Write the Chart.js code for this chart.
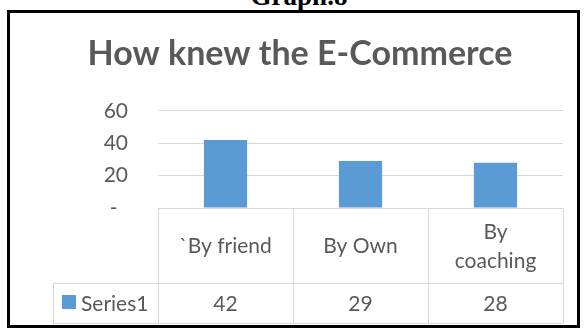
<!DOCTYPE html>
<html>
<head>
<meta charset="utf-8">
<title>How knew the E-Commerce</title>
<script src="https://cdn.jsdelivr.net/npm/chart.js@4/dist/chart.umd.min.js"></script>
<style>
  html, body { margin: 0; padding: 0; background: #fff; }
  #wrap { position: relative; width: 585px; height: 331px; overflow: hidden; }
  #caption {
    position: absolute; left: 0; top: -17px; width: 598px;
    text-align: center; font: bold 27px/27px "Liberation Serif", "Times New Roman", serif; color: #000;
  }
  #frame {
    position: absolute; left: 7px; top: 10px; width: 567px; height: 312px;
    border: 3px solid #000;
  }
  #chart { position: absolute; left: 0; top: 0; }
</style>
</head>
<body>
<div id="wrap">
  <div id="caption">Graph.8</div>
  <div id="frame"></div>
  <canvas id="chart" width="585" height="331"></canvas>
</div>
<script>
"use strict";

const categories = ["`By friend", "By Own", "By coaching"];
const seriesName = "Series1";
const series1 = [42, 29, 28];
const yTicks = [0, 20, 40, 60];

const TEXT = "#595959";
const LINE = "#d9d9d9";
const BAR = "#5b9bd5";
const FONT = "Lato";

// simple word wrap for the header cells
function wrapLabel(ctx, text, maxWidth) {
  const words = text.split(" ");
  const lines = [];
  let line = "";
  for (const w of words) {
    const next = line ? line + " " + w : w;
    if (line && ctx.measureText(next).width > maxWidth) {
      lines.push(line);
      line = w;
    } else {
      line = next;
    }
  }
  if (line) lines.push(line);
  return lines;
}

// data table under the plot, aligned to the category scale
const dataTable = {
  id: "dataTable",
  afterDraw(chart) {
    const { ctx, chartArea } = chart;
    const x = chart.scales.x;
    const step = (chartArea.right - chartArea.left) / categories.length;
    const top = chartArea.bottom;
    const rowY = top + 75;
    const bottom = rowY + 40;
    const legendLeft = 53;

    ctx.save();
    ctx.strokeStyle = LINE;
    ctx.lineWidth = 1;
    ctx.beginPath();
    ctx.moveTo(chartArea.left, top + 0.5);
    ctx.lineTo(chartArea.right, top + 0.5);
    ctx.moveTo(legendLeft, rowY + 0.5);
    ctx.lineTo(chartArea.right, rowY + 0.5);
    ctx.moveTo(legendLeft, bottom + 0.5);
    ctx.lineTo(chartArea.right, bottom + 0.5);
    ctx.moveTo(legendLeft + 0.5, rowY);
    ctx.lineTo(legendLeft + 0.5, bottom);
    for (let i = 0; i <= categories.length; i++) {
      const bx = Math.round(chartArea.left + i * step) + 0.5;
      ctx.moveTo(bx, top);
      ctx.lineTo(bx, bottom);
    }
    ctx.stroke();

    ctx.fillStyle = TEXT;
    ctx.font = `21px ${FONT}`;
    ctx.textAlign = "center";
    ctx.textBaseline = "alphabetic";

    const headMid = (top + rowY) / 2 + 7.5;
    categories.forEach((cat, i) => {
      const cx = x.getPixelForValue(i);
      const lines = wrapLabel(ctx, cat, 100);
      lines.forEach((ln, j) => {
        ctx.fillText(ln, cx, headMid + (j - (lines.length - 1) / 2) * 29);
      });
    });

    const valueY = (rowY + bottom) / 2 + 7.5;
    series1.forEach((v, i) => {
      ctx.fillText(String(v), x.getPixelForValue(i), valueY);
    });

    // legend key + series name
    ctx.fillStyle = BAR;
    ctx.fillRect(62, valueY - 15.5, 14, 14);
    ctx.fillStyle = TEXT;
    ctx.textAlign = "left";
    ctx.fillText(seriesName, 81, valueY);
    ctx.restore();
  },
};

new Chart(document.getElementById("chart"), {
  type: "bar",
  data: {
    labels: categories,
    datasets: [{
      label: seriesName,
      data: series1,
      backgroundColor: BAR,
      borderWidth: 0,
      barPercentage: 0.32,
      categoryPercentage: 1,
    }],
  },
  options: {
    responsive: false,
    animation: false,
    layout: { padding: { left: 37, right: 22, top: 0, bottom: 123 } },
    plugins: {
      legend: { display: false },
      tooltip: { enabled: false },
      title: {
        display: true,
        text: "How knew the E-Commerce",
        color: TEXT,
        font: { family: FONT, size: 34, weight: "bold" },
        padding: { top: 34, bottom: 36 },
      },
    },
    scales: {
      x: { display: false },
      y: {
        min: yTicks[0],
        max: yTicks[yTicks.length - 1],
        afterBuildTicks: (scale) => { scale.ticks = yTicks.map((v) => ({ value: v })); },
        afterFit: (scale) => { scale.width = 121; },
        border: { display: false },
        grid: { color: LINE, lineWidth: 1, drawTicks: false },
        ticks: {
          padding: 30,
          color: TEXT,
          font: { family: FONT, size: 21 },
          callback: (v) => (v === 0 ? "-\u2002" : String(v)),
        },
      },
    },
  },
  plugins: [dataTable],
});
</script>
</body>
</html>
